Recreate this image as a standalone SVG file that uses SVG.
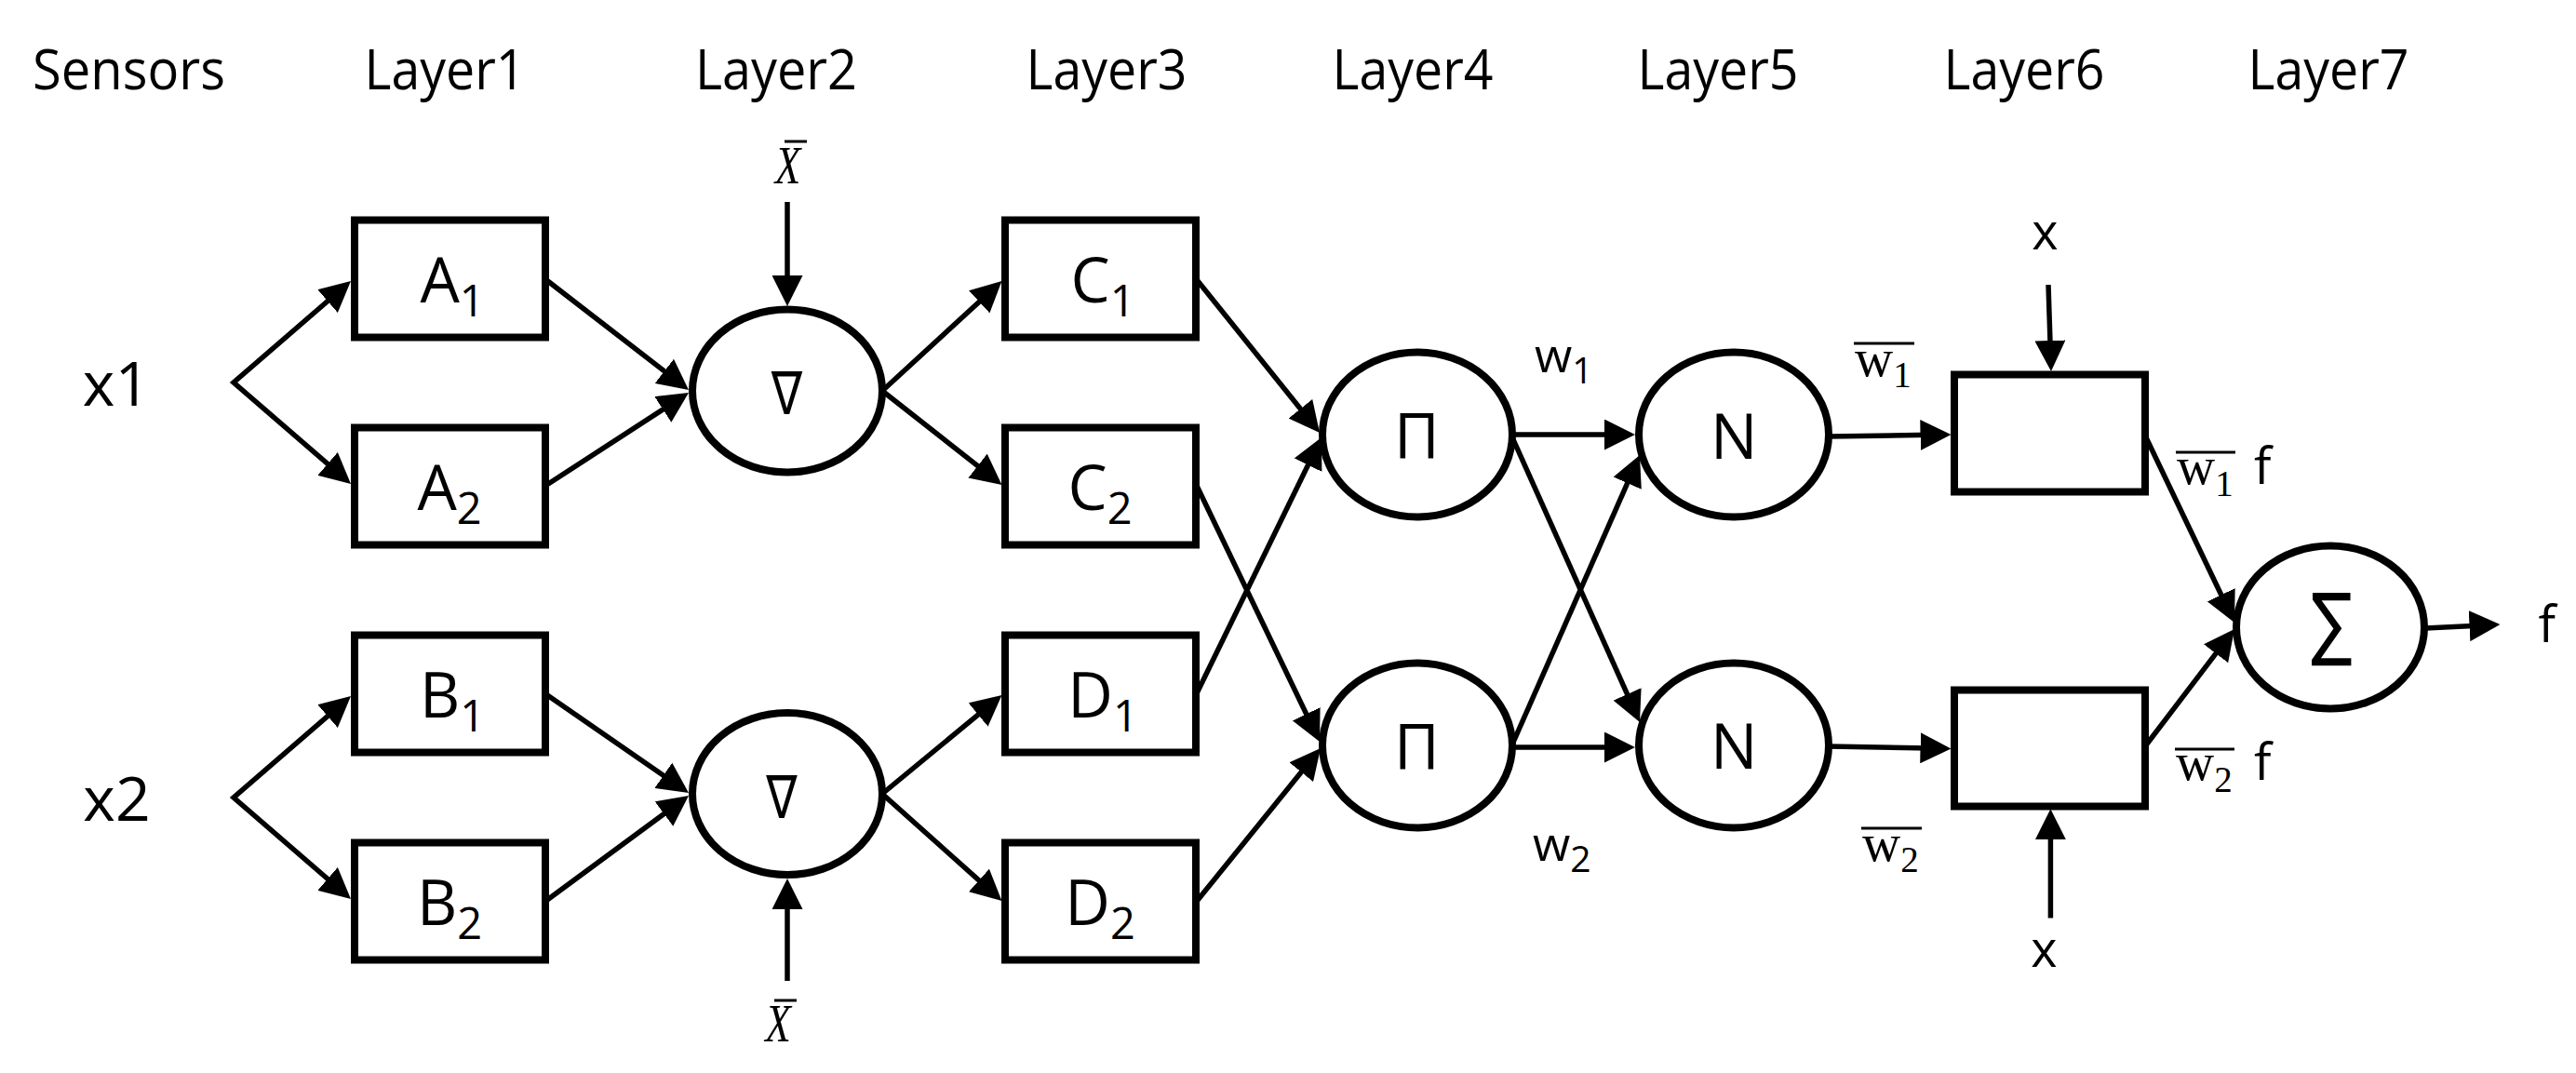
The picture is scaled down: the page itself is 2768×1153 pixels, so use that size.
<svg xmlns="http://www.w3.org/2000/svg" width="2768" height="1153" viewBox="0 0 2768 1153">
<defs>
<marker id="ah" markerUnits="userSpaceOnUse" markerWidth="33" markerHeight="33" viewBox="0 0 33 33" refX="25" refY="16.5" orient="auto-start-reverse"><path d="M0,0 L33,16.5 L0,33 Z" fill="#000"/></marker>
<style>
.hdr{font-family:"Open Sans","Noto Sans",sans-serif;font-size:60px;text-anchor:middle;fill:#000}
.lbl{font-family:"Open Sans","Noto Sans",sans-serif;font-size:67px;text-anchor:middle;fill:#000}
.sub{font-size:47px}
.sans{font-family:"Open Sans","Noto Sans",sans-serif;fill:#000}
.serif{font-family:"Liberation Serif","Times New Roman",serif;fill:#000}
.math{font-family:"DejaVu Sans",sans-serif;fill:#000;text-anchor:middle}
.box{fill:#fff;stroke:#000;stroke-width:8}
.conn{fill:none;stroke:#000;stroke-width:5.5;marker-end:url(#ah)}
.fork{fill:none;stroke:#000;stroke-width:5.5;stroke-linejoin:miter;marker-start:url(#ah);marker-end:url(#ah)}
.bar{stroke:#000;stroke-width:3}
</style>
</defs>
<rect width="2768" height="1153" fill="#fff"/>

<g id="headers">
<text class="hdr" x="138.5" y="96" textLength="207" lengthAdjust="spacingAndGlyphs">Sensors</text>
<text class="hdr" x="478" y="96" textLength="173" lengthAdjust="spacingAndGlyphs">Layer1</text>
<text class="hdr" x="834" y="96" textLength="174" lengthAdjust="spacingAndGlyphs">Layer2</text>
<text class="hdr" x="1189" y="96" textLength="173" lengthAdjust="spacingAndGlyphs">Layer3</text>
<text class="hdr" x="1518" y="96" textLength="173" lengthAdjust="spacingAndGlyphs">Layer4</text>
<text class="hdr" x="1846" y="96" textLength="173" lengthAdjust="spacingAndGlyphs">Layer5</text>
<text class="hdr" x="2175" y="96" textLength="173" lengthAdjust="spacingAndGlyphs">Layer6</text>
<text class="hdr" x="2502" y="96" textLength="173" lengthAdjust="spacingAndGlyphs">Layer7</text>
</g>

<g id="connectors">
<path class="fork" d="M370.95,307.23 L251,411 L370.95,514.77"/>
<path class="fork" d="M370.95,753.23 L251,857 L370.95,960.77"/>
<line class="conn" x1="586" y1="300" x2="733.67" y2="414.11"/>
<line class="conn" x1="586" y1="522" x2="733.29" y2="426.36"/>
<line class="conn" x1="586" y1="745.5" x2="733.42" y2="847.45"/>
<line class="conn" x1="586" y1="968.5" x2="733.56" y2="859.75"/>
<path class="fork" d="M1070.61,307.41 L948,420 L1070.21,516.06"/>
<path class="fork" d="M1070.33,752.09 L948,853 L1070.54,962.66"/>
<line class="conn" x1="846" y1="217" x2="846" y2="321"/>
<line class="conn" x1="846" y1="1054" x2="846" y2="952"/>
<line class="conn" x1="1285.5" y1="300" x2="1412.99" y2="458.76"/>
<line class="conn" x1="1285.5" y1="746" x2="1416.5" y2="477.19"/>
<line class="conn" x1="1285.5" y1="521" x2="1414.54" y2="789.79"/>
<line class="conn" x1="1285.5" y1="969" x2="1413.97" y2="810.22"/>
<line class="conn" x1="1625" y1="467" x2="1749" y2="467"/>
<line class="conn" x1="1625" y1="803" x2="1749" y2="803"/>
<line class="conn" x1="1625" y1="470" x2="1758.73" y2="768.7"/>
<line class="conn" x1="1625" y1="800" x2="1758.76" y2="496.31"/>
<line class="conn" x1="1965" y1="469" x2="2088.5" y2="467.1"/>
<line class="conn" x1="1965" y1="802" x2="2088.5" y2="804.3"/>
<line class="conn" x1="2201" y1="306" x2="2203.74" y2="391"/>
<line class="conn" x1="2203.4" y1="986.5" x2="2203.4" y2="877.2"/>
<line class="conn" x1="2305" y1="468" x2="2397.55" y2="661.78"/>
<line class="conn" x1="2305" y1="802" x2="2396.15" y2="682.36"/>
<line class="conn" x1="2606" y1="675" x2="2678.5" y2="671.4"/>
</g>

<g id="inputs">
<text class="sans" x="125" y="435.5" font-size="66" text-anchor="middle">x1</text>
<text class="sans" x="125.5" y="881.5" font-size="66" text-anchor="middle">x2</text>
</g>

<g id="node-A1"><rect class="box" x="381" y="236.5" width="205" height="126"/><text class="lbl" x="486" y="325">A<tspan class="sub" dy="15">1</tspan></text></g>
<g id="node-A2"><rect class="box" x="381" y="459.5" width="205" height="126"/><text class="lbl" x="483" y="548">A<tspan class="sub" dy="15">2</tspan></text></g>
<g id="node-B1"><rect class="box" x="381" y="682.5" width="205" height="126"/><text class="lbl" x="486" y="771">B<tspan class="sub" dy="15">1</tspan></text></g>
<g id="node-B2"><rect class="box" x="381" y="905.5" width="205" height="126"/><text class="lbl" x="483" y="994">B<tspan class="sub" dy="15">2</tspan></text></g>

<g id="node-grad1"><ellipse class="box" cx="846" cy="420" rx="102" ry="87.5"/><text class="math" font-size="64" transform="translate(845.5,445) scale(0.78,1)">∇</text></g>
<g id="node-grad2"><ellipse class="box" cx="846" cy="853" rx="102" ry="87"/><text class="math" font-size="64" transform="translate(840,879) scale(0.78,1)">∇</text></g>
<g id="label-xbar1"><text class="serif" font-size="58" font-style="italic" text-anchor="middle" transform="translate(846.5,197) scale(0.78,1)">X</text><line class="bar" x1="843" y1="152" x2="867" y2="152"/></g>
<g id="label-xbar2"><text class="serif" font-size="58" font-style="italic" text-anchor="middle" transform="translate(836,1119) scale(0.78,1)">X</text><line class="bar" x1="832" y1="1075" x2="856" y2="1075"/></g>

<g id="node-C1"><rect class="box" x="1080" y="236.5" width="205" height="126"/><text class="lbl" x="1185" y="325">C<tspan class="sub" dy="15">1</tspan></text></g>
<g id="node-C2"><rect class="box" x="1080" y="459.5" width="205" height="126"/><text class="lbl" x="1182" y="548">C<tspan class="sub" dy="15">2</tspan></text></g>
<g id="node-D1"><rect class="box" x="1080" y="682.5" width="205" height="126"/><text class="lbl" x="1185" y="771">D<tspan class="sub" dy="15">1</tspan></text></g>
<g id="node-D2"><rect class="box" x="1080" y="905.5" width="205" height="126"/><text class="lbl" x="1182" y="994">D<tspan class="sub" dy="15">2</tspan></text></g>

<g id="node-Pi1"><ellipse class="box" cx="1523" cy="467" rx="102" ry="88.5"/><text class="lbl" x="1522.5" y="492">Π</text></g>
<g id="node-Pi2"><ellipse class="box" cx="1523" cy="801" rx="102" ry="88.5"/><text class="lbl" x="1522.5" y="826">Π</text></g>
<g id="label-w1"><text class="sans" x="1649" y="400" font-size="52">w<tspan font-size="39" dy="11.5">1</tspan></text></g>
<g id="label-w2"><text class="sans" x="1647" y="925" font-size="52">w<tspan font-size="39" dy="11.5">2</tspan></text></g>

<g id="node-N1"><ellipse class="box" cx="1863" cy="467" rx="102" ry="88.5"/><text class="lbl" x="1863.3" y="493">N</text></g>
<g id="node-N2"><ellipse class="box" cx="1863" cy="801" rx="102" ry="88.5"/><text class="lbl" x="1863.3" y="826">N</text></g>
<g id="label-wbar1"><text class="serif" x="1993" y="404" font-size="57">w<tspan font-size="39" dy="12">1</tspan></text><line class="bar" x1="1992" y1="369" x2="2057" y2="369"/></g>
<g id="label-wbar2"><text class="serif" x="2001" y="925" font-size="57">w<tspan font-size="39" dy="12">2</tspan></text><line class="bar" x1="2000" y1="890" x2="2065" y2="890"/></g>

<g id="node-L6a"><rect class="box" x="2100" y="402.5" width="205" height="126"/></g>
<g id="node-L6b"><rect class="box" x="2100" y="741.5" width="205" height="125"/></g>
<g id="label-x-top"><text class="sans" x="2197.5" y="268" font-size="54" text-anchor="middle">x</text></g>
<g id="label-x-bottom"><text class="sans" x="2196.5" y="1038.5" font-size="54" text-anchor="middle">x</text></g>
<g id="label-w1f"><text class="serif" x="2339" y="520" font-size="57">w<tspan font-size="39" dy="13">1</tspan><tspan class="sans" x="2422" dy="-13" font-size="55">f</tspan></text><line class="bar" x1="2338" y1="486" x2="2402" y2="486"/></g>
<g id="label-w2f"><text class="serif" x="2338" y="838.3" font-size="57">w<tspan font-size="39" dy="13">2</tspan><tspan class="sans" x="2422" dy="-13" font-size="55">f</tspan></text><line class="bar" x1="2337" y1="805" x2="2401" y2="805"/></g>

<g id="node-Sum"><ellipse class="box" cx="2504" cy="674" rx="101" ry="87.5"/><text class="math" font-size="66" transform="translate(2505.5,699) scale(1,1.3)">∑</text></g>
<g id="label-f"><text class="sans" x="2736.7" y="690" font-size="55" text-anchor="middle">f</text></g>
</svg>
